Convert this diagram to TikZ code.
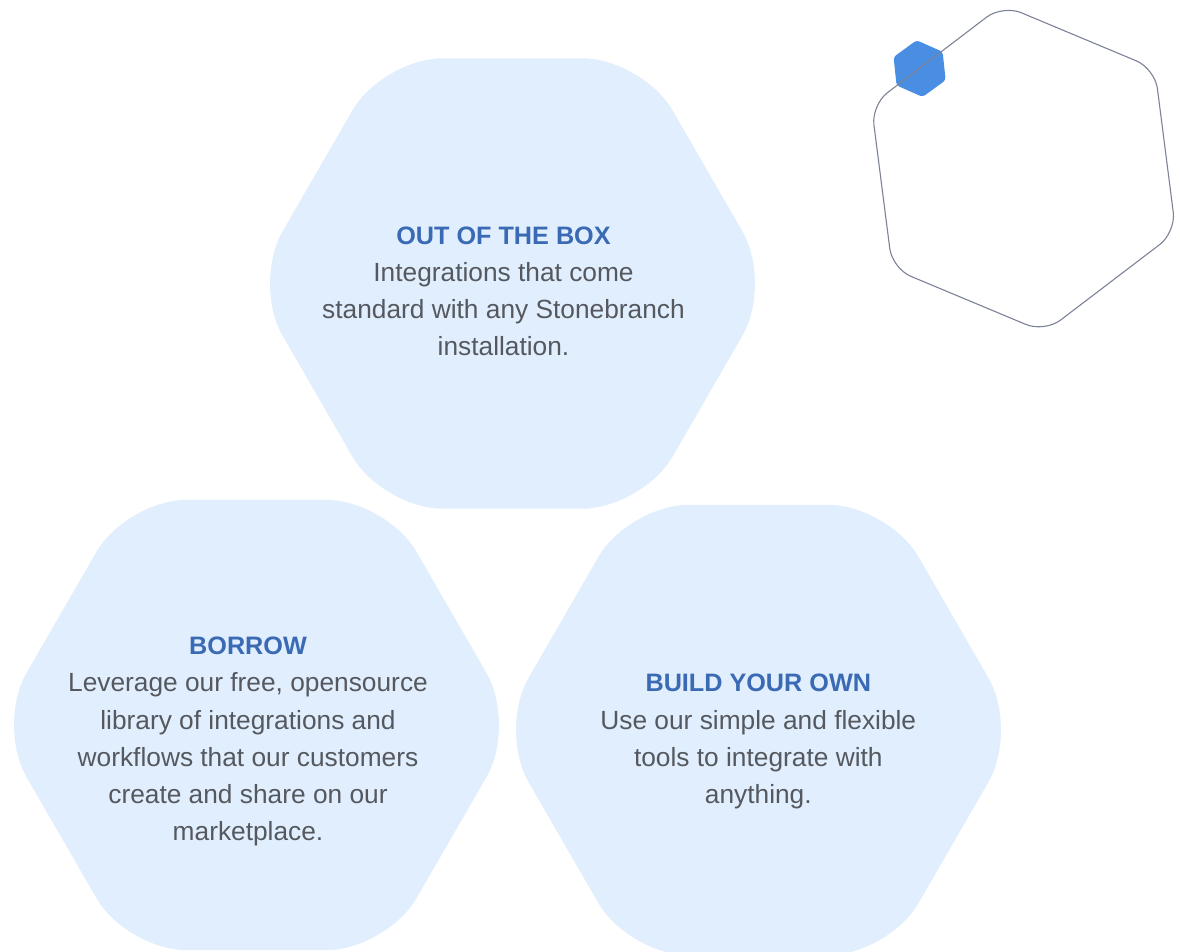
\documentclass[tikz,border=0pt]{standalone}
\usepackage{fontspec}
\setmainfont{Liberation Sans}

\definecolor{hexfill}{HTML}{E1EEFD}
\definecolor{titleblue}{HTML}{3A6AB4}
\definecolor{bodygrey}{HTML}{55595F}
\definecolor{outlinegrey}{HTML}{7C8397}
\definecolor{accentblue}{HTML}{4A8EE3}

% closed hexagon outline: #1 circumradius, #2 angle of the first vertex;
% the path starts mid-edge so every corner gets rounded
\newcommand\hexloop[2]{%
  (#2+30:{#1*0.866025}) -- (#2+60:#1) -- (#2+120:#1) -- (#2+180:#1)
  -- (#2+240:#1) -- (#2+300:#1) -- (#2+360:#1) -- cycle}

\tikzset{
  hexcard/.style={fill=hexfill, rounded corners=60bp},
  cardtitle/.style={anchor=base, inner sep=0pt, text=titleblue,
    font=\fontsize{25.3}{30}\selectfont\bfseries},
  cardbody/.style={anchor=base, inner sep=0pt, text=bodygrey,
    font=\fontsize{26.4}{32}\selectfont},
}

\begin{document}
\begin{tikzpicture}[x=1bp, y=-1bp]
  \fill[white] (0,0) rectangle (1180,952);
  \useasboundingbox (0,0) rectangle (1180,952);

  % three cards
  \coordinate (oobc) at (512.5,283.5);
  \coordinate (borc) at (256.5,725);
  \coordinate (bldc) at (758.5,730);
  \path[hexcard, shift={(oobc)}] \hexloop{260}{0};
  \path[hexcard, shift={(borc)}] \hexloop{260}{0};
  \path[hexcard, shift={(bldc)}] \hexloop{260}{0};

  % decoration in the corner
  \coordinate (dotc) at (919.6,68.6);
  \coordinate (ringc) at (1023.6,168.6);
  \path[fill=accentblue, rounded corners=3bp, shift={(dotc)}] \hexloop{28.5}{24};
  \draw[outlinegrey, line width=1.1bp, rounded corners=20bp, shift={(ringc)}] \hexloop{165}{22.7};

  % OUT OF THE BOX
  \node[cardtitle] (oob-t) at (503.5,244.3) {OUT OF THE BOX};
  \node[cardbody] (oob-1) at (503.5,281.3) {Integrations that come};
  \node[cardbody] (oob-2) at (503.5,318.5) {standard with any Stonebranch};
  \node[cardbody] (oob-3) at (503.5,355.7) {installation.};

  % BORROW
  \node[cardtitle] (bor-t) at (248,654) {BORROW};
  \node[cardbody] (bor-1) at (248,691.7) {Leverage our free, opensource};
  \node[cardbody] (bor-2) at (248,729) {library of integrations and};
  \node[cardbody] (bor-3) at (248,766.3) {workflows that our customers};
  \node[cardbody] (bor-4) at (248,803.6) {create and share on our};
  \node[cardbody] (bor-5) at (248,840.9) {marketplace.};

  % BUILD YOUR OWN
  \node[cardtitle] (bld-t) at (758.3,691.7) {BUILD YOUR OWN};
  \node[cardbody] (bld-1) at (758.3,729) {Use our simple and flexible};
  \node[cardbody] (bld-2) at (758.3,766.3) {tools to integrate with};
  \node[cardbody] (bld-3) at (758.3,803.6) {anything.};
\end{tikzpicture}
\end{document}
